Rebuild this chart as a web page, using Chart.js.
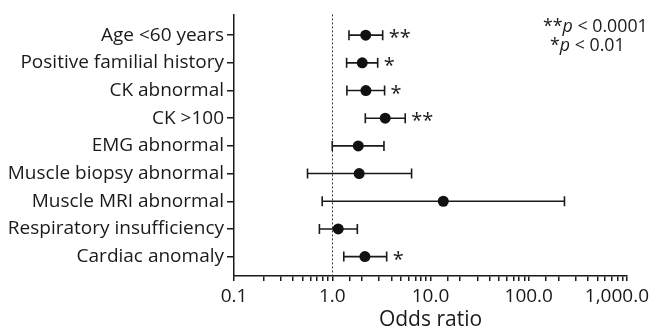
<!DOCTYPE html>
<html>
<head>
<meta charset="utf-8">
<script src="https://cdn.jsdelivr.net/npm/chart.js@4"></script>
<style>
  html, body { margin: 0; padding: 0; background: #fff; }
  #wrap { width: 651px; height: 328px; }
</style>
</head>
<body>
<div id="wrap"><canvas id="forest" width="651" height="328"></canvas></div>
<script>
const labels = ['Age <60 years', 'Positive familial history', 'CK abnormal', 'CK >100', 'EMG abnormal',
  'Muscle biopsy abnormal', 'Muscle MRI abnormal', 'Respiratory insufficiency', 'Cardiac anomaly'];
const oddsRatio = [2.19, 2.02, 2.2, 3.46, 1.84, 1.88, 13.5, 1.15, 2.15];
const ciLow = [1.48, 1.40, 1.41, 2.17, 1.0, 0.56, 0.79, 0.74, 1.31];
const ciHigh = [3.26, 2.9, 3.41, 5.53, 3.36, 6.42, 231, 1.80, 3.58];
const stars = ['**', '*', '*', '**', '', '', '', '', '*'];
const xTicks = [0.1, 1, 10, 100, 1000];

const ink = '#1a1a1a';
const family = '"Open Sans", "Noto Sans", sans-serif';

// whiskers, reference line, stars and text drawn on top of the scales
const forestBits = {
  id: 'forestBits',
  beforeDatasetsDraw(chart) {
    const { ctx, chartArea, scales: { x, y } } = chart;
    ctx.save();
    // dotted line at OR = 1
    const x1 = Math.round(x.getPixelForValue(1)) + 0.5;
    ctx.strokeStyle = '#333';
    ctx.lineWidth = 1;
    ctx.setLineDash([2, 2]);
    ctx.beginPath();
    ctx.moveTo(x1, chartArea.top);
    ctx.lineTo(x1, chartArea.bottom);
    ctx.stroke();
    ctx.setLineDash([]);

    ctx.strokeStyle = ink;
    ctx.lineWidth = 1.6;
    labels.forEach((_, i) => {
      const xl = x.getPixelForValue(ciLow[i]);
      const xh = x.getPixelForValue(ciHigh[i]);
      const yy = y.getPixelForValue(i);
      ctx.beginPath();
      ctx.moveTo(xl, yy); ctx.lineTo(xh, yy);
      ctx.moveTo(xl, yy - 5); ctx.lineTo(xl, yy + 5);
      ctx.moveTo(xh, yy - 5); ctx.lineTo(xh, yy + 5);
      ctx.stroke();
    });
    ctx.restore();
  },
  afterDraw(chart) {
    const { ctx, chartArea, scales: { x, y } } = chart;
    ctx.save();
    ctx.fillStyle = ink;

    ctx.font = '20px ' + family;
    ctx.textAlign = 'left';
    ctx.textBaseline = 'alphabetic';
    labels.forEach((_, i) => {
      if (!stars[i]) return;
      ctx.fillText(stars[i], x.getPixelForValue(ciHigh[i]) + 6, y.getPixelForValue(i) + 9);
    });

    // x tick labels
    ctx.font = '19px ' + family;
    xTicks.forEach(v => {
      const txt = v.toLocaleString('en-US', { minimumFractionDigits: 1 });
      const w = ctx.measureText(txt).width;
      const px = x.getPixelForValue(v);
      ctx.fillText(txt, Math.min(px - w / 2, 649 - w), 302);
    });

    // axis title
    ctx.font = '21px ' + family;
    ctx.textAlign = 'center';
    ctx.fillText('Odds ratio', (chartArea.left + chartArea.right) / 2, 326);

    // significance key
    ctx.textAlign = 'left';
    const key = [['**', ' < 0.0001', 543, 32], ['*', ' < 0.01', 550, 51]];
    key.forEach(([s, rest, kx, ky]) => {
      let cx = kx;
      ctx.font = '17.8px ' + family;
      ctx.fillText(s, cx, ky); cx += ctx.measureText(s).width;
      ctx.font = 'italic 17.8px ' + family;
      ctx.fillText('p', cx, ky); cx += ctx.measureText('p').width;
      ctx.font = '17.8px ' + family;
      ctx.fillText(rest, cx, ky);
    });
    ctx.restore();
  }
};

new Chart(document.getElementById('forest'), {
  type: 'scatter',
  data: {
    datasets: [{
      data: oddsRatio.map((v, i) => ({ x: v, y: i })),
      pointRadius: 5.5,
      pointHoverRadius: 5.5,
      backgroundColor: '#111',
      borderWidth: 0
    }]
  },
  options: {
    responsive: false,
    animation: false,
    layout: { padding: { top: 12, right: 24, left: 0, bottom: 0 } },
    plugins: { legend: { display: false }, tooltip: { enabled: false } },
    scales: {
      x: {
        type: 'logarithmic',
        min: 0.1,
        max: 1000,
        border: { color: ink, width: 1.5 },
        grid: { drawOnChartArea: false, drawTicks: true, tickLength: 5, color: ink, lineWidth: 1.5 },
        ticks: { display: false, autoSkip: false },
        afterFit(scale) {
          scale.height = 52;
          scale.paddingLeft = 0;
          scale.paddingRight = 0;
        }
      },
      y: {
        type: 'linear',
        min: -0.75,
        max: 8.7,
        reverse: true,
        border: { color: ink, width: 1.5 },
        grid: { drawOnChartArea: false, drawTicks: true, tickLength: 7, color: ink, lineWidth: 1.5 },
        afterBuildTicks(scale) {
          scale.ticks = labels.map((_, i) => ({ value: i }));
        },
        ticks: {
          autoSkip: false,
          padding: 3,
          color: ink,
          font: { family: family, size: 19 },
          callback: v => labels[v]
        },
        afterFit(scale) {
          scale.width = 234;
        }
      }
    }
  },
  plugins: [forestBits]
});
</script>
</body>
</html>
